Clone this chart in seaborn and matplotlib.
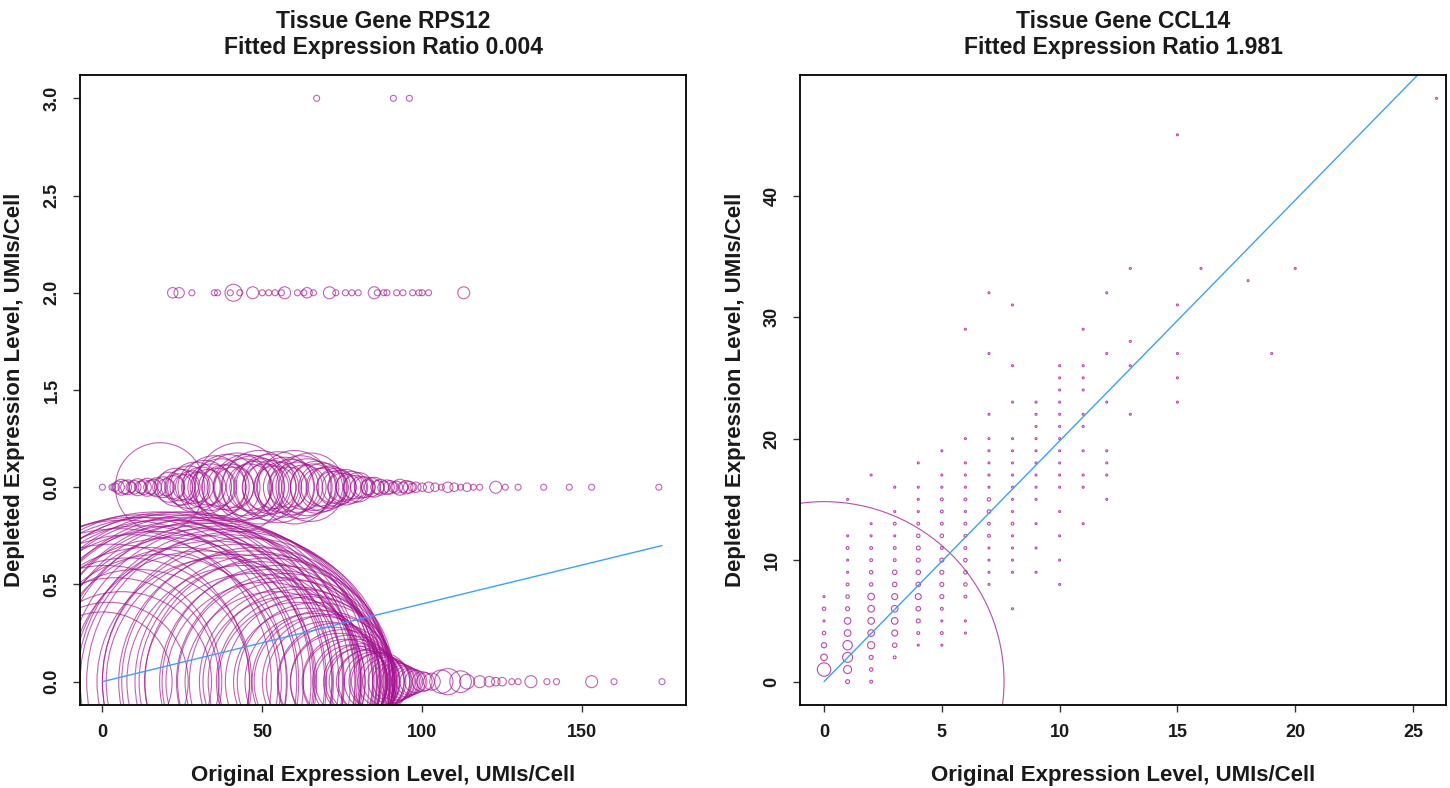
import numpy as np
import pandas as pd
import matplotlib
matplotlib.use("Agg")
import matplotlib.pyplot as plt
import seaborn as sns

# --- Left panel: RPS12, number of cells per (original, depleted) UMI pair ---
rps12_ratio = 0.004

# depleted = 0
rps12_d0_x = [0, 1, 2, 3, 4, 5, 6, 7, 8, 9, 10, 11, 12, 13, 14, 15, 16, 17, 18, 19,
              20, 21, 22, 23, 24, 25, 26, 27, 28, 29, 30, 31, 32, 33, 34, 35, 36, 37, 38, 39,
              40, 41, 42, 43, 44, 45, 46, 47, 48, 49, 50, 51, 52, 53, 54, 55, 56, 57, 58, 59,
              60, 61, 62, 63, 64, 65, 66, 67, 68, 69, 70, 71, 72, 73, 74, 75, 76, 77, 78, 79,
              80, 81, 82, 83, 84, 85, 86, 87, 88, 89, 90, 91, 92, 93, 94, 95, 96, 97,
              98, 100, 101, 103, 106, 108, 112, 114, 118, 121, 123, 125, 128, 130, 134, 139,
              142, 153, 160, 175]
rps12_d0_n = [540, 1500, 700, 2100, 1200, 2600, 900, 2900, 1700, 2400, 3000, 1400, 2700, 3100,
              2000, 3000, 2500, 3200, 1800, 2900, 3100, 2300, 3200, 2700, 3000, 2000, 3200, 2900,
              2400, 3100, 2800, 1900, 3000, 2600, 2900, 2200, 2800, 1700, 2700, 2400, 2600, 1800,
              2500, 2100, 1500, 2300, 1900, 1300, 2000, 1600, 1800, 1100, 1700, 1400, 900, 1500,
              1200, 1300, 800, 1150, 1000, 700, 950, 850, 600, 800, 520, 700, 480, 560, 400,
              500, 330, 380, 260, 300, 200, 240, 150, 200, 120, 160, 140, 110, 120, 100, 90, 95,
              75, 65, 54, 48, 40, 36, 30, 25, 20, 18,
              14, 11, 9, 8, 15, 19, 13, 6, 4, 3, 2, 2, 1, 1, 4, 1,
              1, 4, 1, 1]

# depleted = 1
rps12_d1_x = [0, 3, 4, 5, 6, 7, 8, 9, 10, 11, 12, 13, 14, 15, 16, 17, 18, 19, 20, 21,
              22, 23, 24, 25, 26, 27, 28, 29, 30, 31, 32, 33, 34, 35, 36, 37, 38, 39, 40, 41,
              42, 43, 44, 45, 46, 47, 48, 49, 50, 51, 52, 53, 54, 55, 56, 57, 58, 59, 60, 61,
              62, 63, 64, 65, 66, 67, 68, 69, 70, 71, 72, 73, 74, 75, 76, 77, 78, 79, 80, 81,
              82, 83, 84, 85, 86, 87, 88, 89, 90, 91, 92, 93, 94, 95, 96, 97, 98,
              100, 102, 104, 106, 108, 110, 112, 114, 116, 118, 123, 126, 130, 138, 146, 153, 174]
rps12_d1_n = [1, 1, 2, 4, 7, 5, 6, 3, 5, 8, 4, 6, 9, 5, 7, 10, 220, 12, 8, 25,
              15, 40, 20, 35, 18, 50, 30, 70, 25, 45, 80, 35, 60, 110, 40, 90, 55, 120, 60, 45,
              130, 220, 90, 120, 60, 110, 75, 150, 90, 60, 120, 80, 50, 140, 70, 100, 45, 85, 150, 70,
              110, 55, 90, 130, 60, 75, 40, 65, 45, 50, 28, 40, 32, 22, 35, 18, 28, 15, 24, 13,
              12, 6, 10, 11, 5, 7, 4, 6, 5, 3, 4, 7, 3, 5, 4, 2, 3,
              2, 3, 2, 1, 3, 2, 1, 2, 1, 1, 4, 1, 1, 1, 1, 1, 1]

# depleted = 2
rps12_d2_x = [22, 24, 28, 35, 36, 40, 41, 43, 47, 50, 52, 54, 56, 57, 61, 63, 64, 66, 71, 73,
              76, 78, 80, 85, 86, 88, 89, 92, 94, 97, 99, 100, 102, 113]
rps12_d2_n = [3, 3, 1, 1, 1, 1, 8, 1, 4, 1, 1, 1, 1, 4, 1, 1, 3, 1, 4, 1,
              1, 1, 1, 4, 1, 1, 1, 1, 1, 1, 1, 1, 1, 4]

# depleted = 3
rps12_d3_x = [67, 91, 96]
rps12_d3_n = [1, 1, 1]

# --- Right panel: CCL14 ---
ccl14_ratio = 1.981
ccl14_cols = [0, 1, 2, 3, 4, 5, 6, 7, 8, 9, 10, 11, 12, 13, 15, 16, 18, 19, 20, 26]
ccl14_y = [
    [0, 1, 2, 3, 4, 5, 6, 7],
    [0, 1, 2, 3, 4, 5, 6, 7, 8, 9, 10, 11, 12, 15],
    [0, 1, 2, 3, 4, 5, 6, 7, 8, 9, 10, 11, 12, 13, 17],
    [2, 3, 4, 5, 6, 7, 8, 9, 10, 11, 12, 13, 14, 16],
    [3, 4, 5, 6, 7, 8, 9, 10, 11, 12, 13, 14, 15, 16, 18],
    [3, 4, 5, 6, 7, 8, 9, 10, 11, 12, 13, 14, 15, 16, 17, 19],
    [4, 5, 7, 8, 9, 10, 11, 12, 13, 14, 15, 16, 17, 18, 20, 29],
    [8, 9, 10, 11, 12, 13, 14, 15, 16, 17, 18, 19, 20, 22, 27, 32],
    [6, 9, 10, 11, 12, 13, 14, 15, 16, 17, 18, 19, 20, 23, 26, 31],
    [9, 11, 13, 15, 16, 17, 18, 19, 20, 21, 22, 23],
    [8, 10, 12, 14, 16, 17, 18, 19, 20, 21, 22, 23, 24, 25, 26],
    [13, 16, 17, 19, 21, 22, 24, 25, 26, 29],
    [15, 17, 18, 19, 23, 27, 32],
    [22, 26, 28, 34],
    [23, 25, 27, 31, 45],
    [34], [33], [27], [34], [48],
]
ccl14_n = [
    [32400, 45, 11, 7, 3, 1, 3, 1],
    [4, 16, 25, 22, 11, 11, 4, 3, 2, 1, 1, 2, 1, 1],
    [2, 3, 4, 13, 11, 11, 11, 11, 3, 3, 2, 2, 1, 1, 1],
    [2, 5, 9, 11, 11, 9, 5, 5, 2, 2, 1, 2, 1, 1],
    [1, 2, 4, 5, 9, 5, 5, 4, 4, 3, 2, 1, 1, 1, 1],
    [1, 2, 1, 2, 4, 4, 4, 4, 2, 3, 2, 2, 2, 1, 1, 1],
    [1, 1, 2, 3, 3, 3, 2, 2, 2, 1, 2, 1, 1, 1, 1, 1],
    [1, 1, 1, 1, 2, 2, 3, 3, 1, 1, 1, 1, 1, 1, 1, 1],
    [1, 1, 1, 1, 1, 2, 1, 1, 1, 1, 1, 1, 1, 1, 1, 1],
    [1] * 12,
    [1] * 15,
    [1] * 10,
    [1] * 7,
    [1] * 4,
    [1] * 5,
    [1], [1], [1], [1], [1],
]

# --- Build tables ---
df_rps12 = pd.DataFrame({
    "orig": rps12_d0_x + rps12_d1_x + rps12_d2_x + rps12_d3_x,
    "depl": [0] * len(rps12_d0_x) + [1] * len(rps12_d1_x)
            + [2] * len(rps12_d2_x) + [3] * len(rps12_d3_x),
    "cells": rps12_d0_n + rps12_d1_n + rps12_d2_n + rps12_d3_n,
})
rows = []
for cx, ys, ns in zip(ccl14_cols, ccl14_y, ccl14_n):
    for cy, cn in zip(ys, ns):
        rows.append((cx, cy, cn))
df_ccl14 = pd.DataFrame(rows, columns=["orig", "depl", "cells"])

# --- Style ---
sns.set_style("white")
plt.rcParams["font.family"] = ["Liberation Sans", "DejaVu Sans"]
plt.rcParams["font.weight"] = "bold"

bubble = "#A3108F"
fitline = "#3DA0FF"
ink = "#1a1a1a"
DPI = 100
fig = plt.figure(figsize=(14.5, 7.88), dpi=DPI)
ax1 = fig.add_axes([80 / 1450, 83 / 788, 606 / 1450, 630 / 788])
ax2 = fig.add_axes([800 / 1450, 83 / 788, 646 / 1450, 630 / 788])


def px_area(cells, px_per_sqrt):
    # marker area (pt^2) so that radius in pixels = px_per_sqrt * sqrt(cells)
    nmax = max(cells)
    rmax = px_per_sqrt * np.sqrt(nmax)
    return (0, (2 * rmax * 72 / DPI) ** 2), (0, nmax)


def bubbles(ax, df, ratio, px_per_sqrt, lw, alpha):
    sizes, norm = px_area(df["cells"].tolist(), px_per_sqrt)
    sns.scatterplot(data=df, x="orig", y="depl", size="cells", sizes=sizes,
                    size_norm=norm, marker="o", facecolor="none",
                    edgecolor=bubble, linewidth=lw, alpha=alpha, legend=False, ax=ax)
    fit_x = [0, df["orig"].max()]
    fit_y = [ratio * v for v in fit_x]
    sns.lineplot(x=fit_x, y=fit_y, color=fitline, linewidth=1.0, ax=ax)


bubbles(ax1, df_rps12, rps12_ratio, 3.0, 0.8, 0.65)
bubbles(ax2, df_ccl14, ccl14_ratio, 1.0, 0.8, 0.75)

# --- Axes ---
ax1.set_xlim(-7, 182.5)
ax1.set_ylim(-0.12, 3.12)
ax1.set_xticks([0, 50, 100, 150])
ax1.set_yticks([0, 0.5, 1, 1.5, 2, 2.5, 3])
ax1.set_yticklabels(["0.0", "0.5", "0.0", "1.5", "2.0", "2.5", "3.0"])

ax2.set_xlim(-1.02, 26.4)
ax2.set_ylim(-1.92, 49.92)
ax2.set_xticks([0, 5, 10, 15, 20, 25])
ax2.set_yticks([0, 10, 20, 30, 40])

titles = ["Tissue Gene RPS12\nFitted Expression Ratio 0.004",
          "Tissue Gene CCL14\nFitted Expression Ratio 1.981"]
for ax, title in zip([ax1, ax2], titles):
    ax.set_title(title, fontsize=16.5, fontweight="bold", pad=15, linespacing=1.15, color=ink)
    ax.set_xlabel("Original Expression Level, UMIs/Cell", fontsize=16, fontweight="bold",
                  labelpad=17, color=ink)
    ax.set_ylabel("Depleted Expression Level, UMIs/Cell", fontsize=16, fontweight="bold",
                  labelpad=13, color=ink)
    for side in ax.spines.values():
        side.set_visible(True)
        side.set_color("black")
        side.set_linewidth(1.3)
    ax.tick_params(axis="both", direction="out", length=5, width=1, color="#333333",
                   labelsize=13, labelcolor=ink, pad=9, bottom=True, left=True)
    for lab in ax.get_xticklabels() + ax.get_yticklabels():
        lab.set_fontweight("bold")
    for lab in ax.get_yticklabels():
        lab.set_rotation(90)
        lab.set_va("center")
    ax.grid(False)

fig.savefig("out.png", dpi=DPI, facecolor="white")
